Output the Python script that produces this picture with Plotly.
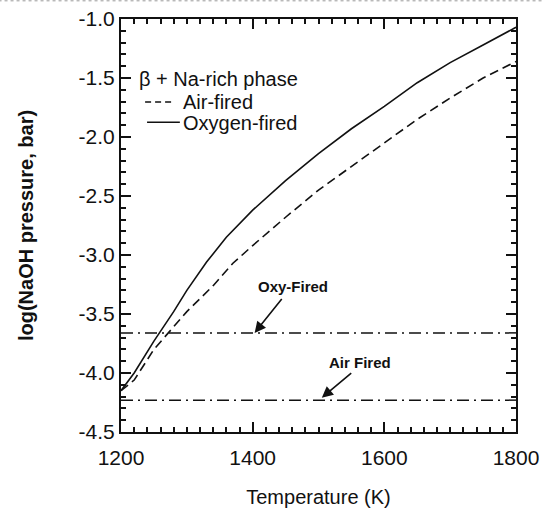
import plotly.graph_objects as go

# ---- data ----
temp_oxy = [1200, 1220, 1250, 1280, 1300, 1330, 1360, 1400, 1450, 1500, 1550, 1600, 1650, 1700, 1750, 1800]
logp_oxy = [-4.15, -4.00, -3.73, -3.48, -3.30, -3.06, -2.85, -2.62, -2.37, -2.14, -1.93, -1.74, -1.54, -1.37, -1.22, -1.07]

temp_air = [1200, 1220, 1250, 1275, 1300, 1340, 1370, 1400, 1450, 1500, 1550, 1600, 1650, 1700, 1750, 1800]
logp_air = [-4.15, -4.06, -3.80, -3.64, -3.48, -3.26, -3.07, -2.92, -2.68, -2.45, -2.25, -2.05, -1.85, -1.67, -1.50, -1.36]

temp_range = [1200, 1800]
oxy_fired_level = [-3.66, -3.66]
air_fired_level = [-4.23, -4.23]

x_tickvals = [1200, 1400, 1600, 1800]
x_ticktext = ["1200", "1400", "1600", "1800"]
y_tickvals = [-1.0, -1.5, -2.0, -2.5, -3.0, -3.5, -4.0, -4.5]
y_ticktext = ["-1.0", "-1.5", "-2.0", "-2.5", "-3.0", "-3.5", "-4.0", "-4.5"]

FONT = "Liberation Sans, Arial, sans-serif"
BLACK = "#111111"

fig = go.Figure()
fig.add_trace(go.Scatter(x=temp_air, y=logp_air, mode="lines", name="Air-fired",
                         line=dict(color=BLACK, width=1.6, dash="9px,5px")))
fig.add_trace(go.Scatter(x=temp_oxy, y=logp_oxy, mode="lines", name="Oxygen-fired",
                         line=dict(color=BLACK, width=1.6)))
fig.add_trace(go.Scatter(x=temp_range, y=oxy_fired_level, mode="lines", name="Oxy-Fired level",
                         line=dict(color=BLACK, width=1.5, dash="12px,5px,2px,5px")))
fig.add_trace(go.Scatter(x=temp_range, y=air_fired_level, mode="lines", name="Air Fired level",
                         line=dict(color=BLACK, width=1.5, dash="12px,5px,2px,5px")))

axis_common = dict(showgrid=False, zeroline=False, showline=True, linecolor=BLACK, linewidth=2,
                   mirror="allticks", ticks="inside", tickcolor=BLACK, tickwidth=1.5,
                   automargin=False,
                   tickfont=dict(family=FONT, size=21, color=BLACK))

fig.update_xaxes(range=[1200, 1800], tickmode="array", tickvals=x_tickvals, ticktext=x_ticktext,
                 ticklen=10, ticklabelstandoff=6,
                 minor=dict(dtick=20, tick0=1200, ticklen=5, tickwidth=1.5, tickcolor=BLACK, ticks="inside"),
                 title=dict(text="Temperature (K)", font=dict(family=FONT, size=20, color=BLACK), standoff=22),
                 **axis_common)
fig.update_yaxes(range=[-4.5, -1.0], tickmode="array", tickvals=y_tickvals, ticktext=y_ticktext,
                 ticklen=10,
                 minor=dict(dtick=0.1, tick0=-4.5, ticklen=5, tickwidth=1.5, tickcolor=BLACK, ticks="inside"),
                 title=dict(text="<b>log(NaOH pressure, bar)</b>", font=dict(family=FONT, size=20, color=BLACK), standoff=40),
                 **axis_common)

# annotations with arrows
arrow = dict(showarrow=True, arrowhead=2, arrowsize=1.4, arrowwidth=1.6, arrowcolor=BLACK,
             axref="x", ayref="y", xref="x", yref="y", text="", standoff=0)
fig.add_annotation(x=1403, y=-3.66, ax=1446, ay=-3.36, **arrow)
fig.add_annotation(x=1505, y=-4.21, ax=1552, ay=-3.99, **arrow)
fig.add_annotation(x=1461, y=-3.27, text="<b>Oxy-Fired</b>", showarrow=False,
                   font=dict(family=FONT, size=15, color=BLACK))
fig.add_annotation(x=1563, y=-3.91, text="<b>Air Fired</b>", showarrow=False,
                   font=dict(family=FONT, size=15, color=BLACK))

# legend block (drawn manually to match compact spacing)
lg_font = dict(family=FONT, size=20, color=BLACK)
fig.add_annotation(xref="paper", yref="paper", x=0.040, y=0.855, xanchor="left", yanchor="middle",
                   text="β + Na-rich phase", showarrow=False, font=lg_font)
fig.add_annotation(xref="paper", yref="paper", x=0.152, y=0.799, xanchor="left", yanchor="middle",
                   text="Air-fired", showarrow=False, font=lg_font)
fig.add_annotation(xref="paper", yref="paper", x=0.152, y=0.748, xanchor="left", yanchor="middle",
                   text="Oxygen-fired", showarrow=False, font=lg_font)
fig.add_shape(type="line", xref="paper", yref="paper", x0=0.061, x1=0.135, y0=0.799, y1=0.799,
              line=dict(color=BLACK, width=1.6, dash="6px,4px"))
fig.add_shape(type="line", xref="paper", yref="paper", x0=0.066, x1=0.149, y0=0.750, y1=0.750,
              line=dict(color=BLACK, width=1.6))

# faint scan border at the very top
fig.add_shape(type="line", xref="paper", yref="paper", x0=-0.31, x1=1.07, y0=1.044, y1=1.044,
              line=dict(color="#999999", width=1, dash="dot"))

fig.update_layout(width=542, height=509, margin=dict(l=121, r=26, t=19, b=77),
                  paper_bgcolor="white", plot_bgcolor="white", showlegend=False,
                  font=dict(family=FONT, color=BLACK))

fig.write_html("out.html")
